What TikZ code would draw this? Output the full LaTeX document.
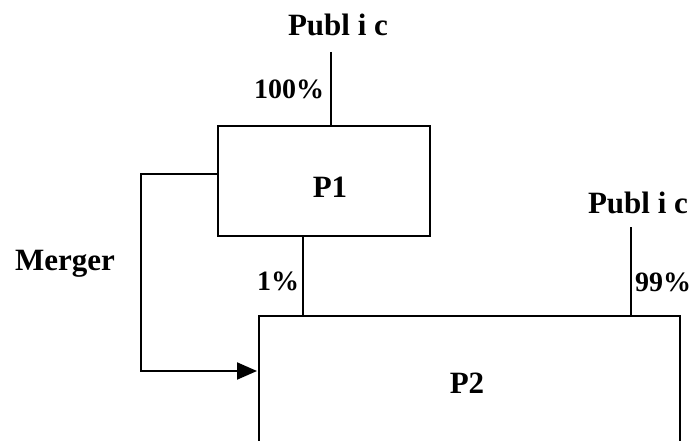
\documentclass[tikz,border=0pt]{standalone}
\usepackage{fontspec}
\setmainfont{Liberation Serif}
\usetikzlibrary{arrows.meta}
\begin{document}
\begin{tikzpicture}[x=1pt,y=-1pt,
  lbl/.style={font=\fontsize{31}{33}\selectfont\bfseries, inner sep=0pt},
  pct/.style={font=\fontsize{28}{30}\selectfont\bfseries, inner sep=0pt},
  boxshape/.style={draw, line width=2pt, inner sep=0pt},
  conn/.style={line width=2pt}]
\useasboundingbox (0,0) rectangle (696,441);
\clip (0,0) rectangle (696,441);
% boxes
\node[boxshape, minimum width=212pt, minimum height=110pt] (p1) at (324,181) {};
\node[lbl] (p1t) at (330,187) {P1};
\node[boxshape, minimum width=421pt, minimum height=160pt] (p2) at (469.5,396) {};
\node[lbl] (p2t) at (467,383) {P2};
% labels
\node[lbl] (pubA) at (338,25) {Publ i c};
\node[lbl] (pubB) at (638,203) {Publ i c};
\node[pct] (pA) at (289,89) {100\%};
\node[pct] (pB) at (278,281) {1\%};
\node[pct] (pC) at (663,282) {99\%};
\node[lbl] (merger) at (65,264) {Merger};
% connectors
\coordinate (a1) at (331,52);
\draw[conn] (a1) -- (a1 |- p1.north);
\coordinate (a2) at (303,236);
\draw[conn] (a2) -- (a2 |- p2.north);
\coordinate (a3) at (631,227);
\draw[conn] (a3) -- (a3 |- p2.north);
\coordinate (m1) at (141,174);
\coordinate (m2) at (141,371);
\coordinate (m3) at (257,371);
\draw[conn, -{Triangle[length=20pt,width=17pt]}] (p1.west |- m1) -- (m1) -- (m2) -- (m3);
\end{tikzpicture}
\end{document}
